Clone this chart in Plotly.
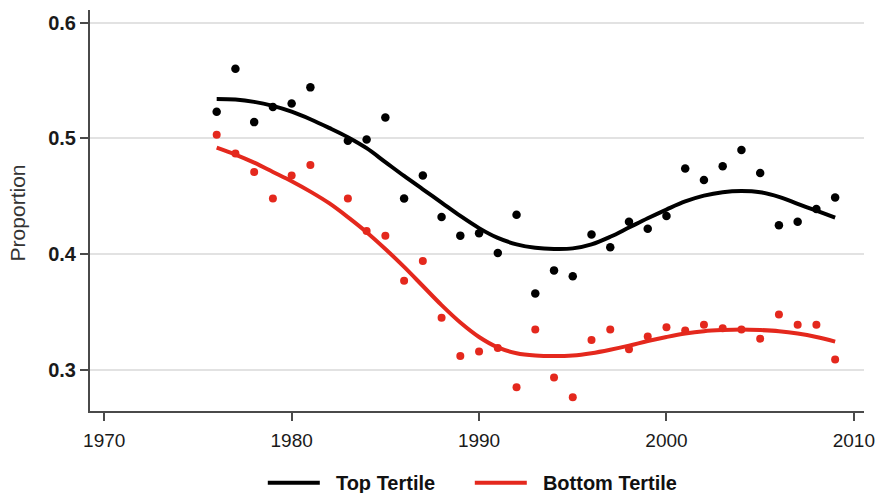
import plotly.graph_objects as go

# ---- data ----
years_pts = [1976, 1977, 1978, 1979, 1980, 1981, 1983, 1984, 1985, 1986, 1987, 1988,
             1989, 1990, 1991, 1992, 1993, 1994, 1995, 1996, 1997, 1998, 1999, 2000,
             2001, 2002, 2003, 2004, 2005, 2006, 2007, 2008, 2009]
top_pts = [0.523, 0.560, 0.514, 0.527, 0.530, 0.544, 0.498, 0.499, 0.518, 0.448, 0.468, 0.432,
           0.416, 0.418, 0.401, 0.434, 0.366, 0.386, 0.381, 0.417, 0.406, 0.428, 0.422, 0.433,
           0.474, 0.464, 0.476, 0.490, 0.470, 0.425, 0.428, 0.439, 0.449]
bottom_pts = [0.503, 0.487, 0.471, 0.448, 0.468, 0.477, 0.448, 0.420, 0.416, 0.377, 0.394, 0.345,
              0.312, 0.316, 0.319, 0.285, 0.335, 0.2935, 0.2765, 0.326, 0.335, 0.318, 0.329, 0.337,
              0.334, 0.339, 0.336, 0.335, 0.327, 0.348, 0.339, 0.339, 0.309]

years_fit = list(range(1976, 2010))
top_fit = [0.534, 0.5335, 0.5315, 0.528, 0.523, 0.5165, 0.509, 0.501, 0.4915, 0.4795, 0.4675, 0.456,
           0.4445, 0.433, 0.4225, 0.414, 0.4085, 0.4055, 0.4045, 0.405, 0.4085, 0.415, 0.423, 0.431,
           0.4385, 0.4455, 0.4505, 0.4535, 0.4545, 0.4535, 0.4495, 0.4435, 0.4375, 0.4315]
bottom_fit = [0.492, 0.486, 0.479, 0.471, 0.463, 0.454, 0.444, 0.432, 0.419, 0.4045, 0.389, 0.3725,
              0.356, 0.341, 0.3285, 0.3195, 0.3145, 0.3125, 0.312, 0.3125, 0.3145, 0.3175, 0.321, 0.325,
              0.3285, 0.3315, 0.3335, 0.3345, 0.335, 0.3345, 0.3335, 0.3315, 0.3285, 0.3245]

x_ticks = [1970, 1980, 1990, 2000, 2010]
y_ticks = [0.3, 0.4, 0.5, 0.6]
y_tick_text = ["0.3", "0.4", "0.5", "0.6"]
series_names = ["Top Tertile", "Bottom Tertile"]

BLACK = "#000000"
RED = "#e4281d"
AXIS = "#4a4a4a"
FONT = "Liberation Sans, Arial, sans-serif"
PAD = "\u00a0\u00a0"  # extra gap between legend swatch and label

fig = go.Figure()
fig.add_trace(go.Scatter(x=years_pts, y=top_pts, mode="markers",
                         marker=dict(color=BLACK, size=8.5), showlegend=False, hoverinfo="x+y"))
fig.add_trace(go.Scatter(x=years_pts, y=bottom_pts, mode="markers",
                         marker=dict(color=RED, size=8), showlegend=False, hoverinfo="x+y"))
fig.add_trace(go.Scatter(x=years_fit, y=top_fit, mode="lines", name=PAD + series_names[0],
                         line=dict(color=BLACK, width=4, shape="spline", smoothing=1)))
fig.add_trace(go.Scatter(x=years_fit, y=bottom_fit, mode="lines", name=PAD + series_names[1],
                         line=dict(color=RED, width=4, shape="spline", smoothing=1)))

fig.update_layout(
    width=876, height=493,
    margin=dict(l=90, r=12, t=10, b=82, autoexpand=False),
    paper_bgcolor="white", plot_bgcolor="white",
    font=dict(family=FONT, color="#222222"),
    showlegend=True,
    legend=dict(orientation="h", xref="container", yref="container",
                x=0.3, xanchor="left", y=0.021, yanchor="middle",
                font=dict(size=20, family=FONT, color="#111111", weight="bold"),
                itemwidth=52, entrywidth=140, traceorder="normal", bgcolor="rgba(0,0,0,0)"),
    xaxis=dict(range=[1969.24, 2010.54], tickvals=x_ticks, showgrid=False, zeroline=False,
               showline=True, linecolor=AXIS, linewidth=2,
               ticks="outside", ticklen=8, tickwidth=1.5, tickcolor=AXIS,
               tickfont=dict(size=19, color="#1a1a1a"), ticklabelstandoff=3),
    yaxis=dict(range=[0.2646, 0.6108], tickvals=y_ticks, ticktext=y_tick_text,
               showgrid=True, gridcolor="#e2e2e2", gridwidth=1.5, zeroline=False,
               showline=True, linecolor=AXIS, linewidth=2,
               ticks="outside", ticklen=8, tickwidth=1.5, tickcolor=AXIS,
               tickfont=dict(size=20, color="#1a1a1a", weight="bold"), ticklabelstandoff=0),
    annotations=[dict(text="Proportion", xref="paper", yref="paper", x=-0.0937, y=0.494,
                      xanchor="center", yanchor="middle", textangle=-90, showarrow=False,
                      font=dict(size=21, color="#333333", family=FONT))],
)

fig.write_html("out.html")
